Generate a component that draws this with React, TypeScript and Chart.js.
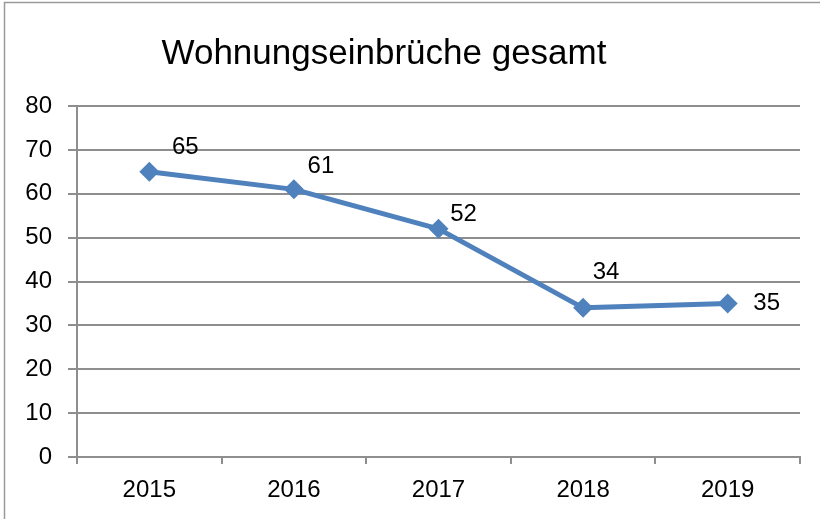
import React, { useEffect, useRef } from "react";
import { Chart, registerables } from "chart.js";

Chart.register(...registerables);

const TITLE = "Wohnungseinbrüche gesamt";
const years = ["2015", "2016", "2017", "2018", "2019"];
const values = [65, 61, 52, 34, 35];
const yMin = 0;
const yMax = 80;
const yStep = 10;
// label offsets (px) relative to each point, as placed in the original
const labelOffsets: [number, number][] = [
  [36, -24],
  [27, -23],
  [25, -14],
  [23, -35],
  [39, 0],
];

const FONT = "'Liberation Sans', Arial, sans-serif";
const GRID = "#8e8e8e";
const LINE = "#4F81BD";

export default function App() {
  const ref = useRef<HTMLCanvasElement | null>(null);

  useEffect(() => {
    document.body.style.margin = "0";
    const canvas = ref.current;
    if (!canvas) return;

    const framePlugin = {
      id: "frame",
      beforeDraw(chart: any) {
        const ctx = chart.ctx;
        ctx.save();
        ctx.fillStyle = "#ffffff";
        ctx.fillRect(0, 0, chart.width, chart.height);
        ctx.strokeStyle = "#9a9a9a";
        ctx.lineWidth = 1.5;
        ctx.beginPath();
        ctx.moveTo(4.5, chart.height);
        ctx.lineTo(4.5, 2.5);
        ctx.lineTo(chart.width, 2.5);
        ctx.stroke();
        ctx.fillStyle = "#000";
        ctx.font = `35px ${FONT}`;
        ctx.textAlign = "center";
        ctx.textBaseline = "alphabetic";
        ctx.fillText(TITLE, 384, 64);
        ctx.restore();
      },
    };

    const labelPlugin = {
      id: "pointLabels",
      afterDatasetsDraw(chart: any) {
        const ctx = chart.ctx;
        const meta = chart.getDatasetMeta(0);
        ctx.save();
        ctx.fillStyle = "#000";
        ctx.font = `24px ${FONT}`;
        ctx.textAlign = "center";
        ctx.textBaseline = "middle";
        meta.data.forEach((pt: any, i: number) => {
          const [dx, dy] = labelOffsets[i];
          ctx.fillText(String(values[i]), pt.x + dx, pt.y + dy);
        });
        ctx.restore();
      },
    };

    const chart = new Chart(canvas, {
      type: "line",
      data: {
        labels: years,
        datasets: [
          {
            data: values,
            borderColor: LINE,
            backgroundColor: LINE,
            borderWidth: 5,
            borderJoinStyle: "round",
            borderCapStyle: "round",
            pointStyle: "rectRot",
            pointRadius: 10,
            pointBackgroundColor: LINE,
            pointBorderColor: LINE,
            pointBorderWidth: 0,
            tension: 0,
          },
        ],
      },
      options: {
        responsive: false,
        animation: false,
        devicePixelRatio: 1,
        layout: { padding: { left: 0, right: 20, top: 106, bottom: 0 } },
        plugins: {
          legend: { display: false },
          title: { display: false },
          tooltip: { enabled: false },
        },
        scales: {
          x: {
            type: "category",
            offset: true,
            afterFit(scale: any) {
              scale.height = 62;
            },
            grid: {
              offset: true,
              drawOnChartArea: false,
              drawTicks: true,
              tickLength: 7,
              color: GRID,
              lineWidth: 2,
            },
            border: { display: true, color: GRID, width: 2 },
            ticks: {
              color: "#000",
              font: { family: FONT, size: 24 },
              padding: 12,
              maxRotation: 0,
            },
          },
          y: {
            min: yMin,
            max: yMax,
            afterFit(scale: any) {
              scale.width = 77;
            },
            grid: {
              color: GRID,
              lineWidth: 2,
              drawTicks: true,
              tickLength: 9,
            },
            border: { display: true, color: GRID, width: 2 },
            ticks: {
              stepSize: yStep,
              color: "#000",
              font: { family: FONT, size: 24 },
              padding: 16,
            },
          },
        },
      },
      plugins: [framePlugin, labelPlugin],
    });

    return () => chart.destroy();
  }, []);

  return (
    <div style={{ width: 820, height: 519, position: "relative" }}>
      <canvas ref={ref} width={820} height={519} style={{ display: "block" }} />
    </div>
  );
}
